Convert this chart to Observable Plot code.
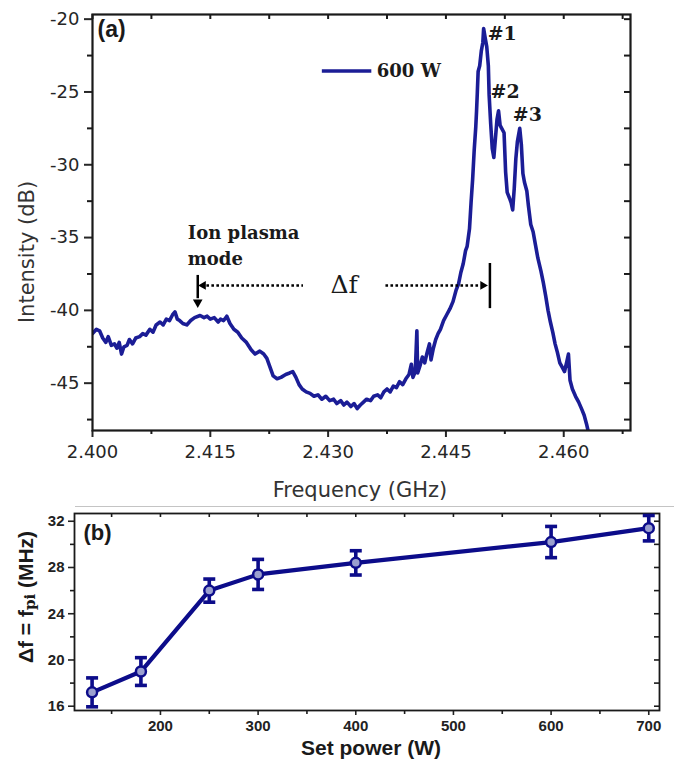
<!DOCTYPE html>
<html>
<head>
<meta charset="utf-8">
<script src="https://cdn.jsdelivr.net/npm/d3@7"></script>
<script src="https://cdn.jsdelivr.net/npm/@observablehq/plot@0.6"></script>
<style>
  html, body { margin: 0; padding: 0; background: #fff; }
  #wrap { width: 674px; }
  #wrap svg { display: block; }
</style>
</head>
<body>
<div id="wrap"></div>
<script>
// ---------- Panel (a): spectrum at 600 W ----------
const freqGHz = [
  2.4000, 2.4005, 2.4009, 2.4013, 2.4017, 2.4020, 2.4024, 2.4028, 2.4031, 2.4034,
  2.4037, 2.4040, 2.4044, 2.4047, 2.4051, 2.4055, 2.4060, 2.4064, 2.4068, 2.4073,
  2.4077, 2.4081, 2.4086, 2.4090, 2.4094, 2.4098, 2.4102, 2.4105, 2.4108, 2.4111,
  2.4115, 2.4120, 2.4125, 2.4130, 2.4137, 2.4142, 2.4146, 2.4150, 2.4155, 2.4160,
  2.4163, 2.4167, 2.4171, 2.4175, 2.4180, 2.4185, 2.4190, 2.4196, 2.4202, 2.4207,
  2.4213, 2.4218, 2.4222, 2.4226, 2.4230, 2.4235, 2.4240, 2.4246, 2.4251, 2.4255,
  2.4259, 2.4263, 2.4267, 2.4272, 2.4277, 2.4282, 2.4287, 2.4292, 2.4297, 2.4302,
  2.4307, 2.4311, 2.4316, 2.4320, 2.4324, 2.4329, 2.4333, 2.4337, 2.4341, 2.4345,
  2.4349, 2.4354, 2.4358, 2.4363, 2.4367, 2.4371, 2.4375, 2.4379, 2.4383, 2.4387,
  2.4391, 2.4395, 2.4399, 2.4403, 2.4406, 2.4408, 2.4411, 2.4413, 2.4414, 2.4417,
  2.4420, 2.4423, 2.4426, 2.4429, 2.4431, 2.4434, 2.4437, 2.4440, 2.4443, 2.4447,
  2.4451, 2.4455, 2.4459, 2.4463, 2.4466, 2.4469, 2.4472, 2.4475, 2.4477, 2.4480,
  2.4482, 2.4484, 2.4486, 2.4488, 2.4489, 2.4490, 2.4491, 2.4493, 2.4495, 2.4497,
  2.4498, 2.4500, 2.4502, 2.4504, 2.4505, 2.4507, 2.4509, 2.4511, 2.4513, 2.4515,
  2.4517, 2.4519, 2.4521, 2.4524, 2.4526, 2.4528, 2.4531, 2.4533, 2.4535, 2.4537,
  2.4539, 2.4541, 2.4544, 2.4546, 2.4548, 2.4550, 2.4553, 2.4555, 2.4558, 2.4561,
  2.4564, 2.4567, 2.4571, 2.4574, 2.4577, 2.4580, 2.4583, 2.4586, 2.4589, 2.4592,
  2.4595, 2.4598, 2.4601, 2.4604, 2.4606, 2.4608, 2.4611, 2.4615, 2.4619, 2.4623,
  2.4626, 2.4629, 2.4632
];
const intensityDb = [
  -41.6, -41.3, -41.4, -41.9, -42.2, -41.8, -42.4, -42.3, -42.6, -42.2,
  -43.0, -42.5, -42.4, -42.0, -42.3, -41.9, -41.8, -41.6, -41.7, -41.3,
  -41.5, -41.0, -40.8, -41.0, -40.6, -40.7, -40.3, -40.1, -40.6, -40.7,
  -40.9, -41.0, -40.7, -40.5, -40.35, -40.5, -40.4, -40.6, -40.5, -40.8,
  -40.6, -40.7, -40.4, -40.9, -41.3, -41.5, -41.9, -42.2, -42.7, -43.0,
  -42.8, -43.0, -43.3, -43.9, -44.5, -44.7, -44.6, -44.4, -44.3, -44.2,
  -44.6, -45.1, -45.4, -45.6, -45.7, -45.9, -45.8, -46.1, -45.9, -46.2,
  -46.1, -46.4, -46.2, -46.5, -46.3, -46.6, -46.4, -46.75, -46.5, -46.3,
  -46.1, -46.2, -45.9, -45.8, -46.0, -45.6, -45.4, -45.6, -45.2, -45.3,
  -44.9, -45.1, -44.7, -44.4, -43.7, -44.6, -44.2, -41.4, -44.3, -43.8,
  -43.2, -43.6, -42.9, -42.3, -43.4, -42.6, -42.0, -41.6, -41.3, -40.7,
  -40.3, -39.9, -39.4, -38.6, -38.2, -37.4, -36.8, -35.9, -35.6, -34.4,
  -32.6, -31.0, -29.0, -27.4, -26.3, -25.0, -23.6, -23.2, -22.2, -21.6,
  -20.65, -21.3, -21.9, -23.2, -25.2, -27.2, -28.9, -29.5, -28.2, -26.9,
  -26.3, -27.3, -27.5, -27.8, -30.5, -31.9, -32.3, -32.6, -33.1, -31.6,
  -29.6, -28.4, -27.5, -28.6, -30.6, -31.2, -31.8, -32.8, -34.1, -34.6,
  -35.5, -36.4, -37.3, -38.1, -39.0, -40.0, -40.8, -41.5, -42.3, -42.9,
  -43.6, -43.9, -44.2, -43.5, -43.0, -44.8, -45.4, -45.9, -46.3, -46.8,
  -47.2, -47.8, -48.5
];
const freqTicks = [2.400, 2.415, 2.430, 2.445, 2.460];
const freqMinorTicks = [2.4075, 2.4225, 2.4375, 2.4525, 2.4675];
const dbTicks = [-20, -25, -30, -35, -40, -45];
const dbMinorTicks = [-22.5, -27.5, -32.5, -37.5, -42.5, -47.5];
const peakLabels = ["#1", "#2", "#3"];
const peakFreq = [2.4498, 2.4517, 2.4544];
const peakDb = [-20.65, -26.3, -27.5];
const legendLabel = "600 W";
const ionModeLabel = "Ion plasma\nmode";
const deltaLabel = "Δf";
const ionModeFreq = 2.4134;   // ion plasma mode maximum
const mainPeakEdgeFreq = 2.4506; // right reference of Δf

// ---------- Panel (b): Δf vs set power ----------
const powerW = [130, 180, 250, 300, 400, 600, 700];
const deltaFMHz = [17.2, 19.0, 26.0, 27.4, 28.4, 30.2, 31.4];
const deltaFErr = [1.25, 1.2, 1.0, 1.3, 1.05, 1.35, 1.1];
const powerTicks = [200, 300, 400, 500, 600, 700];
const powerMinorTicks = [150, 250, 350, 450, 550, 650];
const dfTicks = [16, 20, 24, 28, 32];
const dfMinorTicks = [18, 22, 26, 30];

// ---------- styles ----------
const navyA = "#1b1d96";
const navyB = "#0c0c8a";
const ink = "#1a1a1a";
const sansA = "DejaVu Sans";
const sansB = "Liberation Sans";
const serif = "DejaVu Serif";

const spectrum = freqGHz.map((f, i) => ({f, db: intensityDb[i]}));
const peaks = peakLabels.map((label, i) => ({label, f: peakFreq[i], db: peakDb[i]}));
const peakDx = [4, -8, -7];
const peakDy = [5, -19, -13];
const blank = () => "";

// frame geometry (a)
const A = {w: 674, h: 505, t: 14, b: 75, l: 92, r: 44};
const AinnerW = A.w - A.l - A.r, AinnerH = A.h - A.t - A.b;

const plotA = Plot.plot({
  width: A.w,
  height: A.h,
  marginTop: A.t,
  marginBottom: A.b,
  marginLeft: A.l,
  marginRight: A.r,
  x: {domain: [2.400, 2.4685]},
  y: {domain: [-48.25, -19.68]},
  style: {background: "white", fontFamily: sansA, overflow: "visible"},
  marks: [
    Plot.axisX(freqTicks, {anchor: "bottom", tickSize: 7, tickPadding: 8, tickFormat: d3.format(".3f"), fontSize: 18, color: "#262626", strokeWidth: 2, label: null}),
    Plot.axisX(freqMinorTicks, {anchor: "bottom", tickSize: 4, tickFormat: blank, strokeWidth: 2, color: ink, label: null}),
    Plot.axisY(dbTicks, {anchor: "left", tickSize: 8, tickPadding: 5, tickFormat: d => String(d), fontSize: 18, color: "#262626", strokeWidth: 2, label: null}),
    Plot.axisY(dbMinorTicks, {anchor: "left", tickSize: 5, tickFormat: blank, strokeWidth: 2, color: ink, label: null}),
    // inward ticks on top and right edges of the frame
    Plot.ruleX([...freqTicks, ...freqMinorTicks], {x: d => d, insetBottom: AinnerH - 5, stroke: ink, strokeWidth: 2}),
    Plot.ruleY([...dbTicks, ...dbMinorTicks], {y: d => d, insetLeft: AinnerW - 6, stroke: ink, strokeWidth: 2}),
    Plot.line(spectrum, {x: "f", y: "db", stroke: navyA, strokeWidth: 3.6, strokeLinejoin: "round", clip: true}),
    Plot.frame({stroke: ink, strokeWidth: 2.2}),
    // panel tag
    Plot.text(["(a)"], {frameAnchor: "top-left", dx: 5, dy: 15, textAnchor: "start", lineAnchor: "middle", fontSize: 23, fontWeight: "bold", fontFamily: sansB, fill: ink}),
    // legend
    Plot.link([legendLabel], {x1: 2.4292, x2: 2.4355, y1: -23.56, y2: -23.56, stroke: navyA, strokeWidth: 3.5}),
    Plot.text([legendLabel], {x: 2.4362, y: -23.56, text: d => d, textAnchor: "start", lineAnchor: "middle", fontSize: 18, fontWeight: "bold", fontFamily: serif, fill: ink}),
    // peak labels
    Plot.text(peaks, {x: "f", y: "db", text: "label", textAnchor: "start", lineAnchor: "middle", fontSize: 19, fontWeight: "bold", fontFamily: serif, fill: ink,
      render: (index, scales, values, dims, context, next) => {
        const g = next(index, scales, values, dims, context);
        d3.select(g).selectAll("text").each(function(_, k) {
          const i = index[k];
          d3.select(this).attr("transform", `translate(${values.x[i] + peakDx[i]},${values.y[i] + peakDy[i]})`);
        });
        return g;
      }}),
    // ion plasma mode annotation
    Plot.text([ionModeLabel], {x: 2.41213, y: -35.42, text: d => d, textAnchor: "start", lineAnchor: "middle", lineHeight: 1.45, fontSize: 18, fontWeight: "bold", fontFamily: serif, fill: ink}),
    Plot.ruleX([ionModeFreq], {x: d => d, y1: -37.6, y2: -39.2, stroke: "black", strokeWidth: 2.5}),
    Plot.dot([ionModeFreq], {x: d => d, y: -39.45, symbol: "triangle2", r: 4.6, fill: "black", rotate: 180}),
    // Δf arrows
    Plot.link([deltaLabel], {x1: ionModeFreq + 0.0011, x2: 2.4268, y1: -38.29, y2: -38.29, stroke: "black", strokeWidth: 2.6, strokeDasharray: "2.6,2.4"}),
    Plot.dot([deltaLabel], {x: ionModeFreq + 0.0007, y: -38.29, symbol: "triangle2", r: 4.2, fill: "black", rotate: -90}),
    Plot.link([deltaLabel], {x1: 2.4373, x2: mainPeakEdgeFreq - 0.0012, y1: -38.29, y2: -38.29, stroke: "black", strokeWidth: 2.6, strokeDasharray: "2.6,2.4"}),
    Plot.dot([deltaLabel], {x: mainPeakEdgeFreq - 0.0009, y: -38.29, symbol: "triangle2", r: 4.2, fill: "black", rotate: 90}),
    Plot.ruleX([mainPeakEdgeFreq], {x: d => d, y1: -36.78, y2: -39.88, stroke: "black", strokeWidth: 2.5}),
    Plot.text([deltaLabel], {x: 2.43204, y: -38.29, text: d => d, textAnchor: "middle", lineAnchor: "middle", fontSize: 25, fontFamily: serif, fill: ink})
  ]
});

// ---------- Panel (b) ----------
const power = powerW.map((p, i) => ({p, v: deltaFMHz[i], lo: deltaFMHz[i] - deltaFErr[i], hi: deltaFMHz[i] + deltaFErr[i]}));
const capSymbol = {draw(ctx, size) { const w = Math.sqrt(size / Math.PI); ctx.moveTo(-w, 0); ctx.lineTo(w, 0); }};

const B = {w: 674, h: 255, t: 8, b: 50, l: 74, r: 15};
const BinnerW = B.w - B.l - B.r, BinnerH = B.h - B.t - B.b;

const plotB = Plot.plot({
  width: B.w,
  height: B.h,
  marginTop: B.t,
  marginBottom: B.b,
  marginLeft: B.l,
  marginRight: B.r,
  x: {domain: [112, 711]},
  y: {domain: [15.63, 32.67]},
  style: {background: "white", fontFamily: sansB, overflow: "visible"},
  marks: [
    Plot.axisX(powerTicks, {anchor: "bottom", tickSize: 5, tickPadding: 5, tickFormat: d => String(d), fontSize: 15, fontWeight: "bold", color: "#222", strokeWidth: 1.6, label: null}),
    Plot.axisX(powerMinorTicks, {anchor: "bottom", tickSize: 4, tickFormat: blank, strokeWidth: 1.6, color: ink, label: null}),
    Plot.axisY(dfTicks, {anchor: "left", tickSize: 6, tickPadding: 4, tickFormat: d => String(d), fontSize: 15, fontWeight: "bold", color: "#222", strokeWidth: 1.6, label: null}),
    Plot.axisY(dfMinorTicks, {anchor: "left", tickSize: 4, tickFormat: blank, strokeWidth: 1.6, color: ink, label: null}),
    Plot.ruleX([...powerTicks, ...powerMinorTicks], {x: d => d, insetBottom: BinnerH - 4, stroke: ink, strokeWidth: 1.6}),
    Plot.ruleY([...dfTicks, ...dfMinorTicks], {y: d => d, insetLeft: BinnerW - 5, stroke: ink, strokeWidth: 1.6}),
    Plot.frame({stroke: ink, strokeWidth: 1.8}),
    Plot.line(power, {x: "p", y: "v", stroke: navyB, strokeWidth: 4.2, strokeLinejoin: "round"}),
    Plot.ruleX(power, {x: "p", y1: "lo", y2: "hi", stroke: navyB, strokeWidth: 3.6}),
    Plot.dot(power, {x: "p", y: "lo", symbol: capSymbol, r: 6, stroke: navyB, strokeWidth: 3.6, fill: "none"}),
    Plot.dot(power, {x: "p", y: "hi", symbol: capSymbol, r: 6, stroke: navyB, strokeWidth: 3.6, fill: "none"}),
    Plot.dot(power, {x: "p", y: "v", r: 5, fill: "#9ba0cf", stroke: navyB, strokeWidth: 2.5}),
    Plot.text(["(b)"], {frameAnchor: "top-left", dx: 9, dy: 19, textAnchor: "start", lineAnchor: "middle", fontSize: 22, fontWeight: "bold", fill: ink})
  ]
});

const wrap = document.getElementById("wrap");
wrap.appendChild(plotA);
wrap.appendChild(plotB);

// axis titles (a)
const sa = d3.select(plotA);
sa.append("text")
  .attr("transform", "translate(27,252) rotate(-90)")
  .attr("text-anchor", "middle").attr("dominant-baseline", "central")
  .attr("font-family", sansA).attr("font-size", 21).attr("fill", "#333")
  .text("Intensity (dB)");
sa.append("text")
  .attr("x", 360).attr("y", 497)
  .attr("text-anchor", "middle")
  .attr("font-family", sansA).attr("font-size", 21).attr("fill", "#333")
  .text("Frequency (GHz)");

// axis titles (b)
const sb = d3.select(plotB);
sb.append("line").attr("x1", 75).attr("x2", 674).attr("y1", 1.5).attr("y2", 1.5)
  .attr("stroke", "#c4c4c4").attr("stroke-width", 1);
sb.append("text")
  .attr("x", 371).attr("y", 250)
  .attr("text-anchor", "middle")
  .attr("font-family", sansB).attr("font-weight", "bold").attr("font-size", 21).attr("fill", ink)
  .text("Set power (W)");
const yl = sb.append("text")
  .attr("transform", "translate(25,92) rotate(-90)")
  .attr("text-anchor", "middle").attr("dominant-baseline", "central")
  .attr("font-family", sansB).attr("font-weight", "bold").attr("font-size", 21).attr("fill", ink);
yl.append("tspan").text("Δf = f");
yl.append("tspan").attr("font-family", serif).attr("font-size", 15).attr("dy", 5).text("pi");
yl.append("tspan").attr("dy", -5).text(" (MHz)");
</script>
</body>
</html>
